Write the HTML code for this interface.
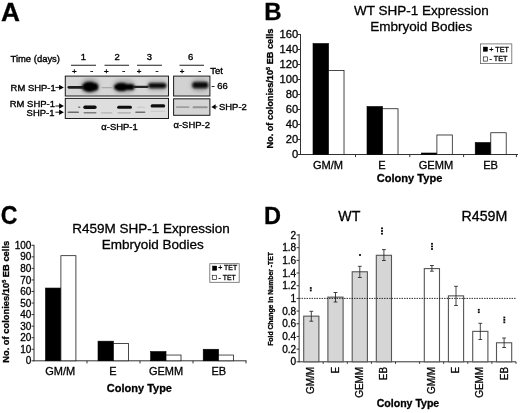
<!DOCTYPE html>
<html><head><meta charset="utf-8"><title>Figure</title>
<style>
html,body{margin:0;padding:0;background:#fff;}
body{width:520px;height:413px;overflow:hidden;font-family:"Liberation Sans",sans-serif;}
svg{display:block;}
svg text{font-family:"Liberation Sans",sans-serif;fill:#000;stroke:#000;stroke-width:0.3px;}
.pa text{stroke-width:0.36px;}
</style></head><body>
<svg width="520" height="413" viewBox="0 0 520 413">
<defs>
<filter id="b1" x="-5%" y="-5%" width="110%" height="110%"><feGaussianBlur stdDeviation="0.35"/></filter>
<filter id="b2" x="-20%" y="-50%" width="140%" height="200%"><feGaussianBlur stdDeviation="0.9"/></filter>
<filter id="b3" x="-30%" y="-80%" width="160%" height="260%"><feGaussianBlur stdDeviation="2"/></filter>
<filter id="b4" x="-20%" y="-80%" width="140%" height="260%"><feGaussianBlur stdDeviation="0.6"/></filter>
<clipPath id="cb"><rect x="65.4" y="76.6" width="102.6" height="18.9"/><rect x="174.1" y="76.6" width="35.3" height="18.9"/></clipPath>
<filter id="soft" x="0" y="0" width="100%" height="100%" filterUnits="userSpaceOnUse"><feGaussianBlur stdDeviation="0.38"/></filter>
</defs>
<rect x="0" y="0" width="520" height="413" fill="#fff"/>
<g filter="url(#soft)">
<text transform="translate(0.9,20.5) scale(1.05,1)" font-size="25" font-weight="bold">A</text>
<text transform="translate(264.2,20.4) scale(0.97,1)" font-size="24.8" font-weight="bold">B</text>
<text transform="translate(0.7,223.8) scale(0.92,1)" font-size="25.2" font-weight="bold">C</text>
<text transform="translate(264.0,223.9) scale(0.95,1)" font-size="24.8" font-weight="bold">D</text>
<g class="pa">
<text x="10.5" y="62" font-size="9.45" text-anchor="start" >Time (days)</text>
<text x="83.25" y="60.3" font-size="9.45" text-anchor="middle" >1</text>
<text x="117" y="60.3" font-size="9.45" text-anchor="middle" >2</text>
<text x="149.25" y="60.3" font-size="9.45" text-anchor="middle" >3</text>
<text x="190.7" y="60.3" font-size="9.45" text-anchor="middle" >6</text>
<line x1="71" y1="65.3" x2="96" y2="65.3" stroke="#444" stroke-width="1.2" />
<line x1="104.5" y1="65.3" x2="129" y2="65.3" stroke="#444" stroke-width="1.2" />
<line x1="137" y1="65.3" x2="162" y2="65.3" stroke="#444" stroke-width="1.2" />
<line x1="179.5" y1="65.3" x2="204" y2="65.3" stroke="#444" stroke-width="1.2" />
<text x="74.25" y="74.3" font-size="8" text-anchor="middle" >+</text>
<text x="106.25" y="74.3" font-size="8" text-anchor="middle" >+</text>
<text x="139" y="74.3" font-size="8" text-anchor="middle" >+</text>
<text x="182.2" y="74.3" font-size="8" text-anchor="middle" >+</text>
<text x="91.75" y="73.6" font-size="9" text-anchor="middle" >-</text>
<text x="123.75" y="73.6" font-size="9" text-anchor="middle" >-</text>
<text x="157" y="73.6" font-size="9" text-anchor="middle" >-</text>
<text x="199.7" y="73.6" font-size="9" text-anchor="middle" >-</text>
<text x="210.3" y="74.3" font-size="9.45" text-anchor="start" >Tet</text>
<g filter="url(#b1)">
<rect x="65.3" y="76.1" width="103.2" height="19.9" fill="#d6d6d6" stroke="#1a1a1a" stroke-width="1" />
<rect x="65.3" y="98.4" width="103.2" height="20.1" fill="#dedede" stroke="#1a1a1a" stroke-width="1" />
<rect x="173.6" y="76.1" width="36.3" height="19.9" fill="#d2d2d2" stroke="#1a1a1a" stroke-width="1" />
<rect x="173.6" y="98.8" width="36.3" height="16.5" fill="#d4d4d4" stroke="#1a1a1a" stroke-width="1" />
</g>
<g filter="url(#b3)" clip-path="url(#cb)">
<rect x="81" y="78.0" width="18" height="16" rx="8.0" fill="#a0a0a0"/>
<rect x="113" y="79.5" width="22" height="14" rx="7.0" fill="#a8a8a8"/>
<rect x="147" y="80.0" width="20" height="11" rx="5.5" fill="#b0b0b0"/>
<rect x="191" y="78.5" width="18" height="13" rx="6.5" fill="#a6a6a6"/>
</g>
<g filter="url(#b2)">
<ellipse cx="89.6" cy="86.9" rx="7.8" ry="5.1" fill="#060606"/>
<rect x="86" y="83.10000000000001" width="12.400000000000006" height="7.6" rx="3.8" fill="#060606"/>
<ellipse cx="121.5" cy="87" rx="7.6" ry="4.3" fill="#060606"/>
<rect x="118" y="83.9" width="16.599999999999994" height="6.2" rx="3.1" fill="#060606"/>
<rect x="148.2" y="82.89999999999999" width="18.200000000000017" height="5.4" rx="2.7" fill="#0a0a0a"/>
<rect x="192.3" y="82.10000000000001" width="16.0" height="6.2" rx="3.1" fill="#080808"/>
</g>
<g filter="url(#b4)">
<rect x="67.5" y="85.89999999999999" width="16.5" height="2.8" rx="1.4" fill="#1c1c1c"/>
<rect x="101.5" y="86.89999999999999" width="12.5" height="1.4" rx="0.7" fill="#a8a8a8"/>
<rect x="133" y="85.80000000000001" width="15.5" height="2.2" rx="1.1" fill="#222"/>
<rect x="83.3" y="105.5" width="13.299999999999997" height="3.4" rx="1.7" fill="#0c0c0c"/>
<rect x="117.1" y="105.65" width="14.900000000000006" height="3.1" rx="1.55" fill="#0e0e0e"/>
<rect x="150.6" y="104.30000000000001" width="14.599999999999994" height="3.2" rx="1.6" fill="#111"/>
<rect x="78" y="106.5" width="2.4000000000000057" height="1.4" rx="0.7" fill="#777"/>
<rect x="137" y="106.8" width="8" height="1.0" rx="0.5" fill="#c4c4c4"/>
<rect x="67.5" y="111.5" width="11.5" height="1.6" rx="0.8" fill="#6a6a6a"/>
<rect x="83.5" y="111.9" width="13.0" height="1.6" rx="0.8" fill="#7c7c7c"/>
<rect x="101" y="112.30000000000001" width="11.5" height="1.2" rx="0.6" fill="#b4b4b4"/>
<rect x="117.3" y="112.14999999999999" width="13.700000000000003" height="1.3" rx="0.65" fill="#aaa"/>
<rect x="135.2" y="111.4" width="10.200000000000017" height="1.6" rx="0.8" fill="#6e6e6e"/>
<rect x="150.5" y="110.7" width="14.5" height="1.0" rx="0.5" fill="#c6c6c6"/>
<rect x="176" y="106.3" width="13.5" height="1.8" rx="0.9" fill="#a0a0a0"/>
<rect x="192.5" y="106.2" width="15.300000000000011" height="2.0" rx="1.0" fill="#949494"/>
</g>
<text x="10.6" y="90.6" font-size="9.45" text-anchor="start" >RM SHP-1</text>
<text x="9.8" y="107" font-size="9.45" text-anchor="start" >RM SHP-1</text>
<text x="26.6" y="115.8" font-size="9.45" text-anchor="start" >SHP-1</text>
<line x1="55.4" y1="87.4" x2="61.9" y2="87.4" stroke="#000" stroke-width="0.9" />
<polygon points="63.9,87.4 59.1,84.7 59.1,90.10000000000001" fill="#000"/>
<line x1="55.4" y1="106" x2="61.9" y2="106" stroke="#000" stroke-width="0.9" />
<polygon points="63.9,106 59.1,103.3 59.1,108.7" fill="#000"/>
<line x1="55.4" y1="112.2" x2="61.9" y2="112.2" stroke="#000" stroke-width="0.9" />
<polygon points="63.9,112.2 59.1,109.5 59.1,114.9" fill="#000"/>
<text x="101.3" y="130.3" font-size="9.45" text-anchor="start" >α-SHP-1</text>
<text x="173.5" y="127.8" font-size="9.45" text-anchor="start" >α-SHP-2</text>
<text x="211.4" y="88.6" font-size="9.45" text-anchor="start" >- 66</text>
<line x1="213.4" y1="106.9" x2="217.4" y2="106.9" stroke="#000" stroke-width="0.9" />
<polygon points="211.4,106.9 215.6,104.30000000000001 215.6,109.5" fill="#000"/>
<text x="219" y="110.0" font-size="9.45" text-anchor="start" >SHP-2</text>
</g>
<text x="421.5" y="15.3" font-size="13.5" text-anchor="middle" >WT SHP-1 Expression</text>
<text x="421.3" y="31.3" font-size="13.5" text-anchor="middle" >Embryoid Bodies</text>
<line x1="300.5" y1="34" x2="300.5" y2="155.0" stroke="#333" stroke-width="1" />
<line x1="300.0" y1="154.5" x2="518" y2="154.5" stroke="#333" stroke-width="1" />
<line x1="298.0" y1="154.5" x2="300.5" y2="154.5" stroke="#333" stroke-width="1" />
<text x="298.2" y="158.1" font-size="11.2" text-anchor="end" >0</text>
<line x1="298.0" y1="139.5" x2="300.5" y2="139.5" stroke="#333" stroke-width="1" />
<text x="298.2" y="143.1" font-size="11.2" text-anchor="end" >20</text>
<line x1="298.0" y1="124.5" x2="300.5" y2="124.5" stroke="#333" stroke-width="1" />
<text x="298.2" y="128.1" font-size="11.2" text-anchor="end" >40</text>
<line x1="298.0" y1="109.5" x2="300.5" y2="109.5" stroke="#333" stroke-width="1" />
<text x="298.2" y="113.1" font-size="11.2" text-anchor="end" >60</text>
<line x1="298.0" y1="94.5" x2="300.5" y2="94.5" stroke="#333" stroke-width="1" />
<text x="298.2" y="98.1" font-size="11.2" text-anchor="end" >80</text>
<line x1="298.0" y1="79.5" x2="300.5" y2="79.5" stroke="#333" stroke-width="1" />
<text x="298.2" y="83.1" font-size="11.2" text-anchor="end" >100</text>
<line x1="298.0" y1="64.5" x2="300.5" y2="64.5" stroke="#333" stroke-width="1" />
<text x="298.2" y="68.1" font-size="11.2" text-anchor="end" >120</text>
<line x1="298.0" y1="49.5" x2="300.5" y2="49.5" stroke="#333" stroke-width="1" />
<text x="298.2" y="53.1" font-size="11.2" text-anchor="end" >140</text>
<line x1="298.0" y1="34.5" x2="300.5" y2="34.5" stroke="#333" stroke-width="1" />
<text x="298.2" y="38.1" font-size="11.2" text-anchor="end" >160</text>
<line x1="355.5" y1="154.5" x2="355.5" y2="157.1" stroke="#333" stroke-width="1" />
<line x1="409.8" y1="154.5" x2="409.8" y2="157.1" stroke="#333" stroke-width="1" />
<line x1="463.6" y1="154.5" x2="463.6" y2="157.1" stroke="#333" stroke-width="1" />
<line x1="516.4" y1="154.5" x2="516.4" y2="157.1" stroke="#333" stroke-width="1" />
<rect x="313" y="43.5" width="15.6" height="111.0" fill="#000" stroke="#000" stroke-width="0.6" />
<rect x="328.6" y="70.5" width="15.4" height="84.0" fill="#fff" stroke="#111" stroke-width="0.75" />
<rect x="367" y="106.5" width="15.6" height="48.0" fill="#000" stroke="#000" stroke-width="0.6" />
<rect x="382.6" y="108.75" width="15.4" height="45.75" fill="#fff" stroke="#111" stroke-width="0.75" />
<rect x="421.3" y="153.0" width="15.6" height="1.5" fill="#000" stroke="#000" stroke-width="0.6" />
<rect x="436.90000000000003" y="135.0" width="15.4" height="19.5" fill="#fff" stroke="#111" stroke-width="0.75" />
<rect x="475.2" y="142.5" width="15.6" height="12.0" fill="#000" stroke="#000" stroke-width="0.6" />
<rect x="490.8" y="132.75" width="15.4" height="21.75" fill="#fff" stroke="#111" stroke-width="0.75" />
<text x="328" y="168.9" font-size="11.1" text-anchor="middle" >GM/M</text>
<text x="382" y="168.9" font-size="11.1" text-anchor="middle" >E</text>
<text x="436" y="168.9" font-size="11.1" text-anchor="middle" >GEMM</text>
<text x="490.6" y="168.9" font-size="11.1" text-anchor="middle" >EB</text>
<text x="409.5" y="182.0" font-size="11.1" text-anchor="middle" font-weight="bold" >Colony Type</text>
<text transform="translate(272.9,148.6) rotate(-90)" font-size="9.2" text-anchor="start" font-weight="bold">No. of colonies/10<tspan font-size="5.5" dy="-3">5</tspan><tspan dy="3"> EB cells</tspan></text>
<rect x="480.5" y="43.9" width="31.3" height="19.7" fill="#fff" stroke="#666" stroke-width="0.8" />
<rect x="483.2" y="47" width="4.4" height="4.4" fill="#000" stroke="#000" stroke-width="0.4" />
<rect x="483.3" y="56.9" width="4.2" height="4.2" fill="#fff" stroke="#222" stroke-width="0.7" />
<text x="489.3" y="51.7" font-size="7.2" text-anchor="start" >+ TET</text>
<text x="489.6" y="61.2" font-size="7.2" text-anchor="start" >- TET</text>
<text x="151" y="232.6" font-size="13.5" text-anchor="middle" >R459M SHP-1 Expression</text>
<text x="152.7" y="249.4" font-size="13.5" text-anchor="middle" >Embryoid Bodies</text>
<line x1="34.0" y1="244.8" x2="34.0" y2="361.3" stroke="#333" stroke-width="1" />
<line x1="33.5" y1="360.8" x2="246.5" y2="360.8" stroke="#333" stroke-width="1" />
<line x1="31.5" y1="360.8" x2="34.0" y2="360.8" stroke="#333" stroke-width="1" />
<text x="31.4" y="364.40000000000003" font-size="10.0" text-anchor="end" >0</text>
<line x1="31.5" y1="349.25" x2="34.0" y2="349.25" stroke="#333" stroke-width="1" />
<text x="31.4" y="352.85" font-size="10.0" text-anchor="end" >10</text>
<line x1="31.5" y1="337.7" x2="34.0" y2="337.7" stroke="#333" stroke-width="1" />
<text x="31.4" y="341.3" font-size="10.0" text-anchor="end" >20</text>
<line x1="31.5" y1="326.15000000000003" x2="34.0" y2="326.15000000000003" stroke="#333" stroke-width="1" />
<text x="31.4" y="329.75000000000006" font-size="10.0" text-anchor="end" >30</text>
<line x1="31.5" y1="314.6" x2="34.0" y2="314.6" stroke="#333" stroke-width="1" />
<text x="31.4" y="318.20000000000005" font-size="10.0" text-anchor="end" >40</text>
<line x1="31.5" y1="303.05" x2="34.0" y2="303.05" stroke="#333" stroke-width="1" />
<text x="31.4" y="306.65000000000003" font-size="10.0" text-anchor="end" >50</text>
<line x1="31.5" y1="291.5" x2="34.0" y2="291.5" stroke="#333" stroke-width="1" />
<text x="31.4" y="295.1" font-size="10.0" text-anchor="end" >60</text>
<line x1="31.5" y1="279.95" x2="34.0" y2="279.95" stroke="#333" stroke-width="1" />
<text x="31.4" y="283.55" font-size="10.0" text-anchor="end" >70</text>
<line x1="31.5" y1="268.4" x2="34.0" y2="268.4" stroke="#333" stroke-width="1" />
<text x="31.4" y="272.0" font-size="10.0" text-anchor="end" >80</text>
<line x1="31.5" y1="256.85" x2="34.0" y2="256.85" stroke="#333" stroke-width="1" />
<text x="31.4" y="260.45000000000005" font-size="10.0" text-anchor="end" >90</text>
<line x1="31.5" y1="245.3" x2="34.0" y2="245.3" stroke="#333" stroke-width="1" />
<text x="31.4" y="248.9" font-size="10.0" text-anchor="end" >100</text>
<line x1="87.0" y1="360.8" x2="87.0" y2="363.40000000000003" stroke="#333" stroke-width="1" />
<line x1="140.0" y1="360.8" x2="140.0" y2="363.40000000000003" stroke="#333" stroke-width="1" />
<line x1="193.0" y1="360.8" x2="193.0" y2="363.40000000000003" stroke="#333" stroke-width="1" />
<line x1="246.0" y1="360.8" x2="246.0" y2="363.40000000000003" stroke="#333" stroke-width="1" />
<rect x="45.5" y="288.035" width="15.4" height="72.76" fill="#000" stroke="#000" stroke-width="0.6" />
<rect x="60.9" y="255.695" width="15.0" height="105.11" fill="#fff" stroke="#111" stroke-width="0.75" />
<rect x="98" y="341.165" width="15.4" height="19.63" fill="#000" stroke="#000" stroke-width="0.6" />
<rect x="113.4" y="343.475" width="15.0" height="17.32" fill="#fff" stroke="#111" stroke-width="0.75" />
<rect x="150.6" y="351.56" width="15.4" height="9.24" fill="#000" stroke="#000" stroke-width="0.6" />
<rect x="166.0" y="355.02500000000003" width="15.0" height="5.77" fill="#fff" stroke="#111" stroke-width="0.75" />
<rect x="203.2" y="349.25" width="15.4" height="11.55" fill="#000" stroke="#000" stroke-width="0.6" />
<rect x="218.6" y="355.02500000000003" width="15.0" height="5.77" fill="#fff" stroke="#111" stroke-width="0.75" />
<text x="60.3" y="375.2" font-size="11.0" text-anchor="middle" >GM/M</text>
<text x="113" y="375.2" font-size="11.0" text-anchor="middle" >E</text>
<text x="166" y="375.2" font-size="11.0" text-anchor="middle" >GEMM</text>
<text x="218.8" y="375.2" font-size="11.0" text-anchor="middle" >EB</text>
<text x="139.4" y="391.9" font-size="11.0" text-anchor="middle" font-weight="bold" >Colony Type</text>
<text transform="translate(9.3,362.8) rotate(-90)" font-size="9.35" text-anchor="start" font-weight="bold">No. of colonies/10<tspan font-size="5.5" dy="-3">5</tspan><tspan dy="3"> EB cells</tspan></text>
<rect x="209.8" y="263.7" width="29.4" height="18.6" fill="#fff" stroke="#666" stroke-width="0.8" />
<rect x="212.4" y="266" width="4.4" height="4.4" fill="#000" stroke="#000" stroke-width="0.4" />
<rect x="212.3" y="275.3" width="4.2" height="4.1" fill="#fff" stroke="#222" stroke-width="0.7" />
<text x="218.3" y="270.2" font-size="6.9" text-anchor="start" >+ TET</text>
<text x="218.6" y="279.6" font-size="6.9" text-anchor="start" >- TET</text>
<text x="349.4" y="221.2" font-size="14.2" text-anchor="middle" >WT</text>
<text x="484.4" y="221.2" font-size="14.2" text-anchor="middle" >R459M</text>
<line x1="299.1" y1="234" x2="299.1" y2="362.3" stroke="#333" stroke-width="1" />
<line x1="298.6" y1="361.8" x2="516" y2="361.8" stroke="#333" stroke-width="1" />
<line x1="296.6" y1="361.8" x2="299.1" y2="361.8" stroke="#333" stroke-width="1" />
<text x="296.2" y="365.40000000000003" font-size="10.1" text-anchor="end" >0</text>
<line x1="296.6" y1="349.12" x2="299.1" y2="349.12" stroke="#333" stroke-width="1" />
<text x="296.2" y="352.72" font-size="10.1" text-anchor="end" >0.2</text>
<line x1="296.6" y1="336.44" x2="299.1" y2="336.44" stroke="#333" stroke-width="1" />
<text x="296.2" y="340.04" font-size="10.1" text-anchor="end" >0.4</text>
<line x1="296.6" y1="323.76" x2="299.1" y2="323.76" stroke="#333" stroke-width="1" />
<text x="296.2" y="327.36" font-size="10.1" text-anchor="end" >0.6</text>
<line x1="296.6" y1="311.08000000000004" x2="299.1" y2="311.08000000000004" stroke="#333" stroke-width="1" />
<text x="296.2" y="314.68000000000006" font-size="10.1" text-anchor="end" >0.8</text>
<line x1="296.6" y1="298.40000000000003" x2="299.1" y2="298.40000000000003" stroke="#333" stroke-width="1" />
<text x="296.2" y="302.00000000000006" font-size="10.1" text-anchor="end" >1</text>
<line x1="296.6" y1="285.72" x2="299.1" y2="285.72" stroke="#333" stroke-width="1" />
<text x="296.2" y="289.32000000000005" font-size="10.1" text-anchor="end" >1.2</text>
<line x1="296.6" y1="273.04" x2="299.1" y2="273.04" stroke="#333" stroke-width="1" />
<text x="296.2" y="276.64000000000004" font-size="10.1" text-anchor="end" >1.4</text>
<line x1="296.6" y1="260.36" x2="299.1" y2="260.36" stroke="#333" stroke-width="1" />
<text x="296.2" y="263.96000000000004" font-size="10.1" text-anchor="end" >1.6</text>
<line x1="296.6" y1="247.68" x2="299.1" y2="247.68" stroke="#333" stroke-width="1" />
<text x="296.2" y="251.28" font-size="10.1" text-anchor="end" >1.8</text>
<line x1="296.6" y1="235.0" x2="299.1" y2="235.0" stroke="#333" stroke-width="1" />
<text x="296.2" y="238.6" font-size="10.1" text-anchor="end" >2</text>
<line x1="323.20000000000005" y1="361.8" x2="323.20000000000005" y2="363.8" stroke="#333" stroke-width="1" />
<line x1="347.3" y1="361.8" x2="347.3" y2="363.8" stroke="#333" stroke-width="1" />
<line x1="371.40000000000003" y1="361.8" x2="371.40000000000003" y2="363.8" stroke="#333" stroke-width="1" />
<line x1="395.5" y1="361.8" x2="395.5" y2="363.8" stroke="#333" stroke-width="1" />
<line x1="419.6" y1="361.8" x2="419.6" y2="363.8" stroke="#333" stroke-width="1" />
<line x1="443.70000000000005" y1="361.8" x2="443.70000000000005" y2="363.8" stroke="#333" stroke-width="1" />
<line x1="467.80000000000007" y1="361.8" x2="467.80000000000007" y2="363.8" stroke="#333" stroke-width="1" />
<line x1="491.90000000000003" y1="361.8" x2="491.90000000000003" y2="363.8" stroke="#333" stroke-width="1" />
<line x1="516.0" y1="361.8" x2="516.0" y2="363.8" stroke="#333" stroke-width="1" />
<rect x="303.7" y="316.15200000000004" width="15.2" height="45.65" fill="#d6d6d6" stroke="#555" stroke-width="1.1" />
<line x1="311.3" y1="311.3" x2="311.3" y2="321.2" stroke="#222" stroke-width="0.85" />
<line x1="309.40000000000003" y1="311.3" x2="313.2" y2="311.3" stroke="#222" stroke-width="0.85" />
<line x1="309.40000000000003" y1="321.2" x2="313.2" y2="321.2" stroke="#222" stroke-width="0.85" />
<rect x="327.9" y="297.132" width="15.2" height="64.67" fill="#d6d6d6" stroke="#555" stroke-width="1.1" />
<line x1="335.5" y1="292.5" x2="335.5" y2="302" stroke="#222" stroke-width="0.85" />
<line x1="333.6" y1="292.5" x2="337.4" y2="292.5" stroke="#222" stroke-width="0.85" />
<line x1="333.6" y1="302" x2="337.4" y2="302" stroke="#222" stroke-width="0.85" />
<rect x="352.2" y="271.77200000000005" width="15.2" height="90.03" fill="#d6d6d6" stroke="#555" stroke-width="1.1" />
<line x1="359.8" y1="266.3" x2="359.8" y2="277.5" stroke="#222" stroke-width="0.85" />
<line x1="357.90000000000003" y1="266.3" x2="361.7" y2="266.3" stroke="#222" stroke-width="0.85" />
<line x1="357.90000000000003" y1="277.5" x2="361.7" y2="277.5" stroke="#222" stroke-width="0.85" />
<rect x="376.29999999999995" y="255.288" width="15.2" height="106.51" fill="#d6d6d6" stroke="#555" stroke-width="1.1" />
<line x1="383.9" y1="249.6" x2="383.9" y2="260.5" stroke="#222" stroke-width="0.85" />
<line x1="382.0" y1="249.6" x2="385.79999999999995" y2="249.6" stroke="#222" stroke-width="0.85" />
<line x1="382.0" y1="260.5" x2="385.79999999999995" y2="260.5" stroke="#222" stroke-width="0.85" />
<rect x="424.29999999999995" y="268.60200000000003" width="15.2" height="93.2" fill="#fff" stroke="#555" stroke-width="1.1" />
<line x1="431.9" y1="265.5" x2="431.9" y2="271.2" stroke="#222" stroke-width="0.85" />
<line x1="430.0" y1="265.5" x2="433.79999999999995" y2="265.5" stroke="#222" stroke-width="0.85" />
<line x1="430.0" y1="271.2" x2="433.79999999999995" y2="271.2" stroke="#222" stroke-width="0.85" />
<rect x="448.4" y="295.86400000000003" width="15.2" height="65.94" fill="#fff" stroke="#555" stroke-width="1.1" />
<line x1="456" y1="286.3" x2="456" y2="305.5" stroke="#222" stroke-width="0.85" />
<line x1="454.1" y1="286.3" x2="457.9" y2="286.3" stroke="#222" stroke-width="0.85" />
<line x1="454.1" y1="305.5" x2="457.9" y2="305.5" stroke="#222" stroke-width="0.85" />
<rect x="472.7" y="331.368" width="15.2" height="30.43" fill="#fff" stroke="#555" stroke-width="1.1" />
<line x1="480.3" y1="323.3" x2="480.3" y2="339.5" stroke="#222" stroke-width="0.85" />
<line x1="478.40000000000003" y1="323.3" x2="482.2" y2="323.3" stroke="#222" stroke-width="0.85" />
<line x1="478.40000000000003" y1="339.5" x2="482.2" y2="339.5" stroke="#222" stroke-width="0.85" />
<rect x="496.5" y="342.78000000000003" width="15.2" height="19.02" fill="#fff" stroke="#555" stroke-width="1.1" />
<line x1="504.1" y1="338" x2="504.1" y2="347.5" stroke="#222" stroke-width="0.85" />
<line x1="502.20000000000005" y1="338" x2="506.0" y2="338" stroke="#222" stroke-width="0.85" />
<line x1="502.20000000000005" y1="347.5" x2="506.0" y2="347.5" stroke="#222" stroke-width="0.85" />
<line x1="299.1" y1="298.40000000000003" x2="515.5" y2="298.40000000000003" stroke="#111" stroke-width="0.9" stroke-dasharray="1.4 1.1"/>
<rect x="309.85" y="287.1" width="1.9" height="1.8" fill="#111"/>
<rect x="309.85" y="289.5" width="1.9" height="1.8" fill="#111"/>
<rect x="359.05" y="254.1" width="1.9" height="1.8" fill="#111"/>
<rect x="381.05" y="227.4" width="1.9" height="1.8" fill="#111"/>
<rect x="381.05" y="230.1" width="1.9" height="1.8" fill="#111"/>
<rect x="381.05" y="232.79999999999998" width="1.9" height="1.8" fill="#111"/>
<rect x="431.05" y="242.9" width="1.9" height="1.8" fill="#111"/>
<rect x="431.05" y="245.5" width="1.9" height="1.8" fill="#111"/>
<rect x="431.05" y="248.1" width="1.9" height="1.8" fill="#111"/>
<rect x="477.85" y="308.90000000000003" width="1.9" height="1.8" fill="#111"/>
<rect x="477.85" y="311.3" width="1.9" height="1.8" fill="#111"/>
<rect x="503.35" y="316.6" width="1.9" height="1.8" fill="#111"/>
<rect x="503.35" y="319.0" width="1.9" height="1.8" fill="#111"/>
<rect x="503.35" y="321.40000000000003" width="1.9" height="1.8" fill="#111"/>
<text transform="translate(314.4,366.9) rotate(-90) scale(0.965,1)" font-size="10.3" text-anchor="end">GM/M</text>
<text transform="translate(339.0,366.9) rotate(-90) scale(0.965,1)" font-size="10.3" text-anchor="end">E</text>
<text transform="translate(362.8,366.9) rotate(-90) scale(0.965,1)" font-size="10.3" text-anchor="end">GEMM</text>
<text transform="translate(386.6,366.9) rotate(-90) scale(0.965,1)" font-size="10.3" text-anchor="end">EB</text>
<text transform="translate(435.1,366.9) rotate(-90) scale(0.965,1)" font-size="10.3" text-anchor="end">GM/M</text>
<text transform="translate(459.2,366.9) rotate(-90) scale(0.965,1)" font-size="10.3" text-anchor="end">E</text>
<text transform="translate(483.2,366.9) rotate(-90) scale(0.965,1)" font-size="10.3" text-anchor="end">GEMM</text>
<text transform="translate(508.3,366.9) rotate(-90) scale(0.965,1)" font-size="10.3" text-anchor="end">EB</text>
<text x="408" y="407.1" font-size="10.55" text-anchor="middle" font-weight="bold" >Colony Type</text>
<text transform="translate(272.9,345.8) rotate(-90)" font-size="6.8" text-anchor="start" font-weight="bold">Fold Change in Number -TET</text>
</g>
</svg>
</body></html>
